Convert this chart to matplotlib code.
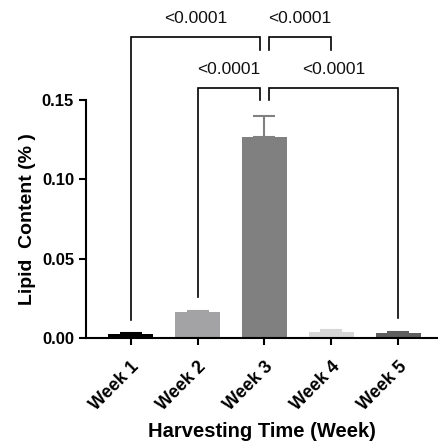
import numpy as np
import matplotlib
matplotlib.use("Agg")
import matplotlib.pyplot as plt

plt.rcParams['font.family'] = ['Liberation Sans', 'DejaVu Sans']

# data
weeks = ['Week 1', 'Week 2', 'Week 3', 'Week 4', 'Week 5']
lipid = [0.0022, 0.0160, 0.1265, 0.0038, 0.0028]
lipid_err = [0.0005, 0.0010, 0.0135, 0.0009, 0.0008]
bar_colors = ['#000000', '#a3a3a6', '#808080', '#d6d6d6', '#5e5e5e']

# significance brackets: group pairs, bracket height, leg ends, label
pairs = [(0, 2), (2, 3), (1, 2), (2, 4)]
bracket_top = [0.1897, 0.1897, 0.1576, 0.1576]
leg_left = [0.0113, 0.1815, 0.0258, 0.150]
leg_right = [0.1815, 0.1815, 0.150, 0.0126]
p_labels = ['<0.0001', '<0.0001', '<0.0001', '<0.0001']

fig = plt.figure(figsize=(4.38, 4.43), dpi=100)
ax = fig.add_axes([0.196, 0.2377, 0.802, 0.5363])

x = np.arange(len(weeks))
ax.bar(x, lipid, width=0.67, color=bar_colors, zorder=2)
for xi, v, e, c in zip(x, lipid, lipid_err, bar_colors):
    ax.errorbar(xi, v, yerr=[[0], [e]], color=c, capsize=8, elinewidth=1.5,
                capthick=1.5, zorder=3)

# legs at the middle bar are offset slightly so brackets don't overlap
off = 0.06
for (a, b), top, l0, l1, lab in zip(pairs, bracket_top, leg_left, leg_right, p_labels):
    xa = a + off if a == 2 else a
    xb = b - off if b == 2 else b
    ax.plot([xa, xa, xb, xb], [l0, top, top, l1], color='black', lw=1.2,
            clip_on=False, solid_joinstyle='miter')
    ax.text((xa + xb) / 2, top + 0.0072, lab, ha='center', va='bottom',
            fontsize=12.5, color='#111111')

ax.set_xlim(-0.67, 4.58)
ax.set_ylim(0, 0.15)
ax.set_yticks([0, 0.05, 0.10, 0.15])
ax.set_yticklabels(['0.00', '0.05', '0.10', '0.15'], fontweight='bold', fontsize=12)
ax.set_xticks(x)
ax.set_xticklabels(weeks, rotation=45, ha='right', rotation_mode='anchor',
                   fontweight='bold', fontsize=13)
ax.tick_params(axis='both', direction='out', length=5, width=1.5)
ax.tick_params(axis='x', pad=10)
ax.spines['top'].set_visible(False)
ax.spines['right'].set_visible(False)
ax.spines['left'].set_linewidth(1.5)
ax.spines['bottom'].set_linewidth(1.5)

ax.set_ylabel('Lipid  Content (% )', fontweight='bold', fontsize=14, labelpad=4)
ax.set_xlabel('Harvesting Time (Week)', fontweight='bold', fontsize=14.5, labelpad=6)

fig.savefig('out.png', dpi=100)
